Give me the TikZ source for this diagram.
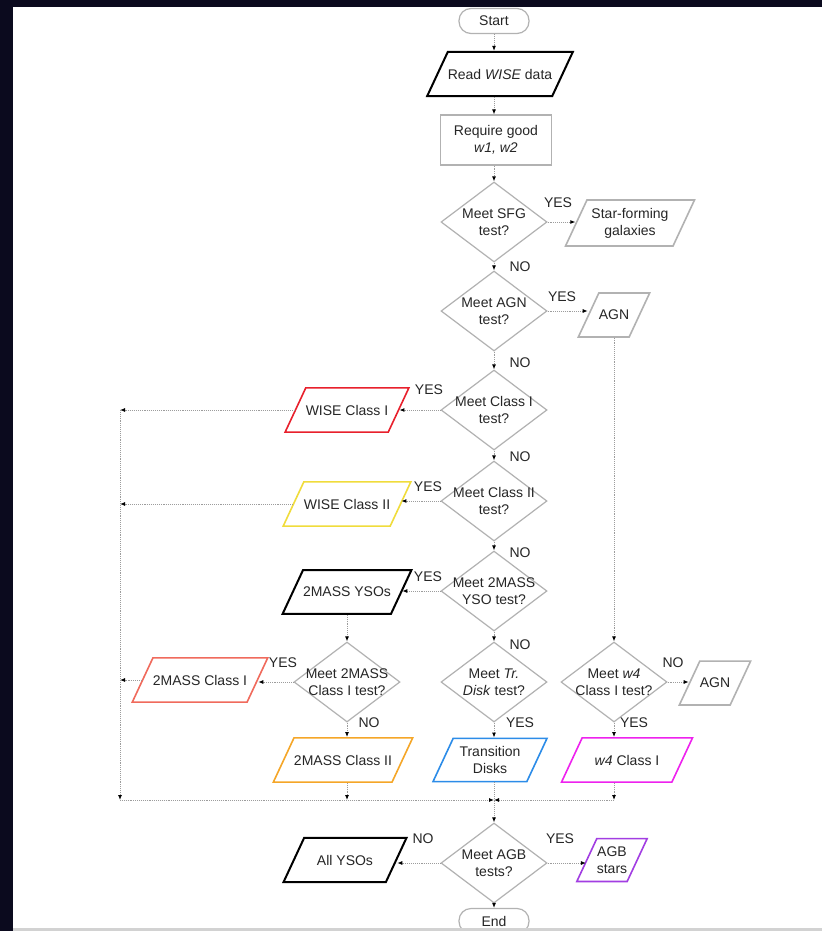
\documentclass[tikz,border=0pt]{standalone}
\usepackage{fontspec}
\setmainfont{Liberation Sans}
\usetikzlibrary{shapes.geometric,arrows.meta}
\definecolor{framebg}{HTML}{0B0A1E}
\definecolor{boxgray}{HTML}{B2B2B2}
\definecolor{linegray}{HTML}{9C9C9C}
\definecolor{wiseI}{HTML}{E8202C}
\definecolor{wiseII}{HTML}{F0DC3C}
\definecolor{massI}{HTML}{F06A5C}
\definecolor{massII}{HTML}{F5A628}
\definecolor{trdisk}{HTML}{2C8CE8}
\definecolor{wfour}{HTML}{EE22EE}
\definecolor{agbpur}{HTML}{A23EE2}

\tikzset{
	every node/.style={font=\fontsize{14}{17}\selectfont, text=black!85},
	term/.style={draw=boxgray, line width=1.2pt, rounded corners=12pt, minimum width=70pt, minimum height=25pt, inner sep=0pt},
	proc/.style={draw=boxgray, line width=1.2pt, minimum width=111pt, minimum height=50pt, align=center},
	test/.style={diamond, draw=boxgray, line width=1.2pt, aspect=1.3, minimum width=106pt, minimum height=80pt, inner xsep=-8pt, inner ysep=-3pt, align=center},
	io/.style={trapezium, trapezium left angle=65, trapezium right angle=115, trapezium stretches body, draw=#1, line width=1.6pt, inner xsep=0pt, inner ysep=17pt, align=center},
	twoline/.style={inner ysep=8pt},
	flow/.style={densely dotted, draw=linegray, line width=0.9pt, -{Latex[black,length=5pt,width=4pt]}},
	ans/.style={inner sep=0pt}
}

\begin{document}
\begin{tikzpicture}[x=1pt,y=-1pt]
\useasboundingbox (0,0) rectangle (822,931);
\fill[framebg] (0,0) rectangle (822,931);
\fill[white] (13,7) rectangle (822,928);

\node[term] (start) at (494,21) {Start};
\node[io=black, line width=2pt, minimum width=140pt] (read) at (500,74) {Read \textit{WISE} data};
\node[proc] (good) at (496,140) {Require good\\\textit{w1, w2}};
\node[test] (sfgt) at (494,222) {Meet SFG\\test?};
\node[io=boxgray, twoline, minimum width=129pt] (sfg) at (630,223) {Star-forming\\galaxies};
\node[test] (agnt) at (494,311) {Meet AGN\\test?};
\node[io=boxgray, minimum width=66pt] (agna) at (614,315) {AGN};
\node[test] (cIt) at (494,410) {Meet Class I\\test?};
\node[io=wiseI, minimum width=122pt] (wcI) at (347,410) {WISE Class I};
\node[test] (cIIt) at (494,501) {Meet Class II\\test?};
\node[io=wiseII, minimum width=122pt] (wcII) at (347,504) {WISE Class II};
\node[test] (ysot) at (494,591) {Meet 2MASS\\YSO test?};
\node[io=black, line width=2pt, minimum width=122pt] (ysos) at (347,592) {2MASS YSOs};
\node[test] (mIt) at (347,682) {Meet 2MASS\\Class I test?};
\node[io=massI, minimum width=134pt] (mcI) at (200,680) {2MASS Class I};
\node[io=massII, minimum width=138pt] (mcII) at (343,760) {2MASS Class II};
\node[test] (tdt) at (494,682) {Meet \textit{Tr.}\\\textit{Disk} test?};
\node[io=trdisk, twoline, minimum width=114pt] (td) at (490,760) {Transition\\Disks};
\node[test] (wft) at (614,682) {Meet \textit{w4}\\Class I test?};
\node[io=boxgray, minimum width=65pt] (agnb) at (715,683) {AGN};
\node[io=wfour, minimum width=131pt] (wfc) at (627,760) {\textit{w4} Class I};
\node[test] (agbt) at (494,863) {Meet AGB\\tests?};
\node[io=black, line width=2pt, minimum width=123pt] (allyso) at (345,860) {All YSOs};
\node[io=agbpur, twoline, minimum width=65pt] (agb) at (612,860) {AGB\\stars};
\node[term] (end) at (494,921) {End};

\node[ans] (ysfg) at (558,203) {YES};
\node[ans] (nsfg) at (520,267) {NO};
\node[ans] (yagn) at (562,297) {YES};
\node[ans] (nagn) at (520,363) {NO};
\node[ans] (ycI) at (429,390) {YES};
\node[ans] (ncI) at (520,457) {NO};
\node[ans] (ycII) at (428,487) {YES};
\node[ans] (ncII) at (520,553) {NO};
\node[ans] (yyso) at (428,577) {YES};
\node[ans] (nyso) at (520,645) {NO};
\node[ans] (ymI) at (283,663) {YES};
\node[ans] (nmI) at (369,723) {NO};
\node[ans] (ytd) at (520,723) {YES};
\node[ans] (nwf) at (673,663) {NO};
\node[ans] (ywf) at (634,723) {YES};
\node[ans] (nagb) at (423,839) {NO};
\node[ans] (yagb) at (560,839) {YES};

\coordinate (lbus) at (120,800);
\coordinate (jn) at (494,800);

\draw[flow] (start.south) -- (start.south |- read.north);
\draw[flow] (read.south -| start) -- (start |- good.north);
\draw[flow] (good.south -| start) -- (sfgt.north);
\draw[flow] (sfgt.east) -- (sfgt.east -| sfg.west);
\draw[flow] (sfgt.south) -- (agnt.north);
\draw[flow] (agnt.east) -- (agnt.east -| agna.west);
\draw[flow] (agnt.south) -- (cIt.north);
\draw[flow] (agna.south -| wft) -- (wft.north);
\draw[flow] (cIt.west) -- (cIt.west -| wcI.east);
\draw[flow] (wcI.west) -- (wcI.west -| lbus);
\draw[flow] (cIt.south) -- (cIIt.north);
\draw[flow] (cIIt.west) -- (cIIt.west -| wcII.east);
\draw[flow] (wcII.west) -- (wcII.west -| lbus);
\draw[flow] (cIIt.south) -- (ysot.north);
\draw[flow] (ysot.west) -- (ysot.west -| ysos.east);
\draw[flow] (ysos.south -| mIt) -- (mIt.north);
\draw[flow] (mIt.west) -- (mIt.west -| mcI.east);
\draw[flow] (mcI.west) -- (mcI.west -| lbus);
\draw[flow] (mIt.south) -- (mIt.south |- mcII.north);
\draw[flow] (mcII.south -| mIt) -- (mIt |- jn);
\draw[flow] (ysot.south) -- (tdt.north);
\draw[flow] (tdt.south) -- (tdt.south |- td.north);
\draw[flow] (td.south -| tdt) -- (agbt.north);
\draw[flow] (wft.east) -- (wft.east -| agnb.west);
\draw[flow] (wft.south) -- (wft.south |- wfc.north);
\draw[flow] (wfc.south -| wft) -- (wft |- jn);
\draw[flow] (wft |- jn) -- (jn);
\draw[flow] (wcI.west -| lbus) -- (lbus);
\draw[flow] (lbus) -- (jn);
\draw[flow] (agbt.west) -- (agbt.west -| allyso.east);
\draw[flow] (agbt.east) -- (agbt.east -| agb.west);
\draw[flow] (agbt.south) -- (end.north);

\fill[gray!35] (13,928) rectangle (822,931);
\end{tikzpicture}
\end{document}
